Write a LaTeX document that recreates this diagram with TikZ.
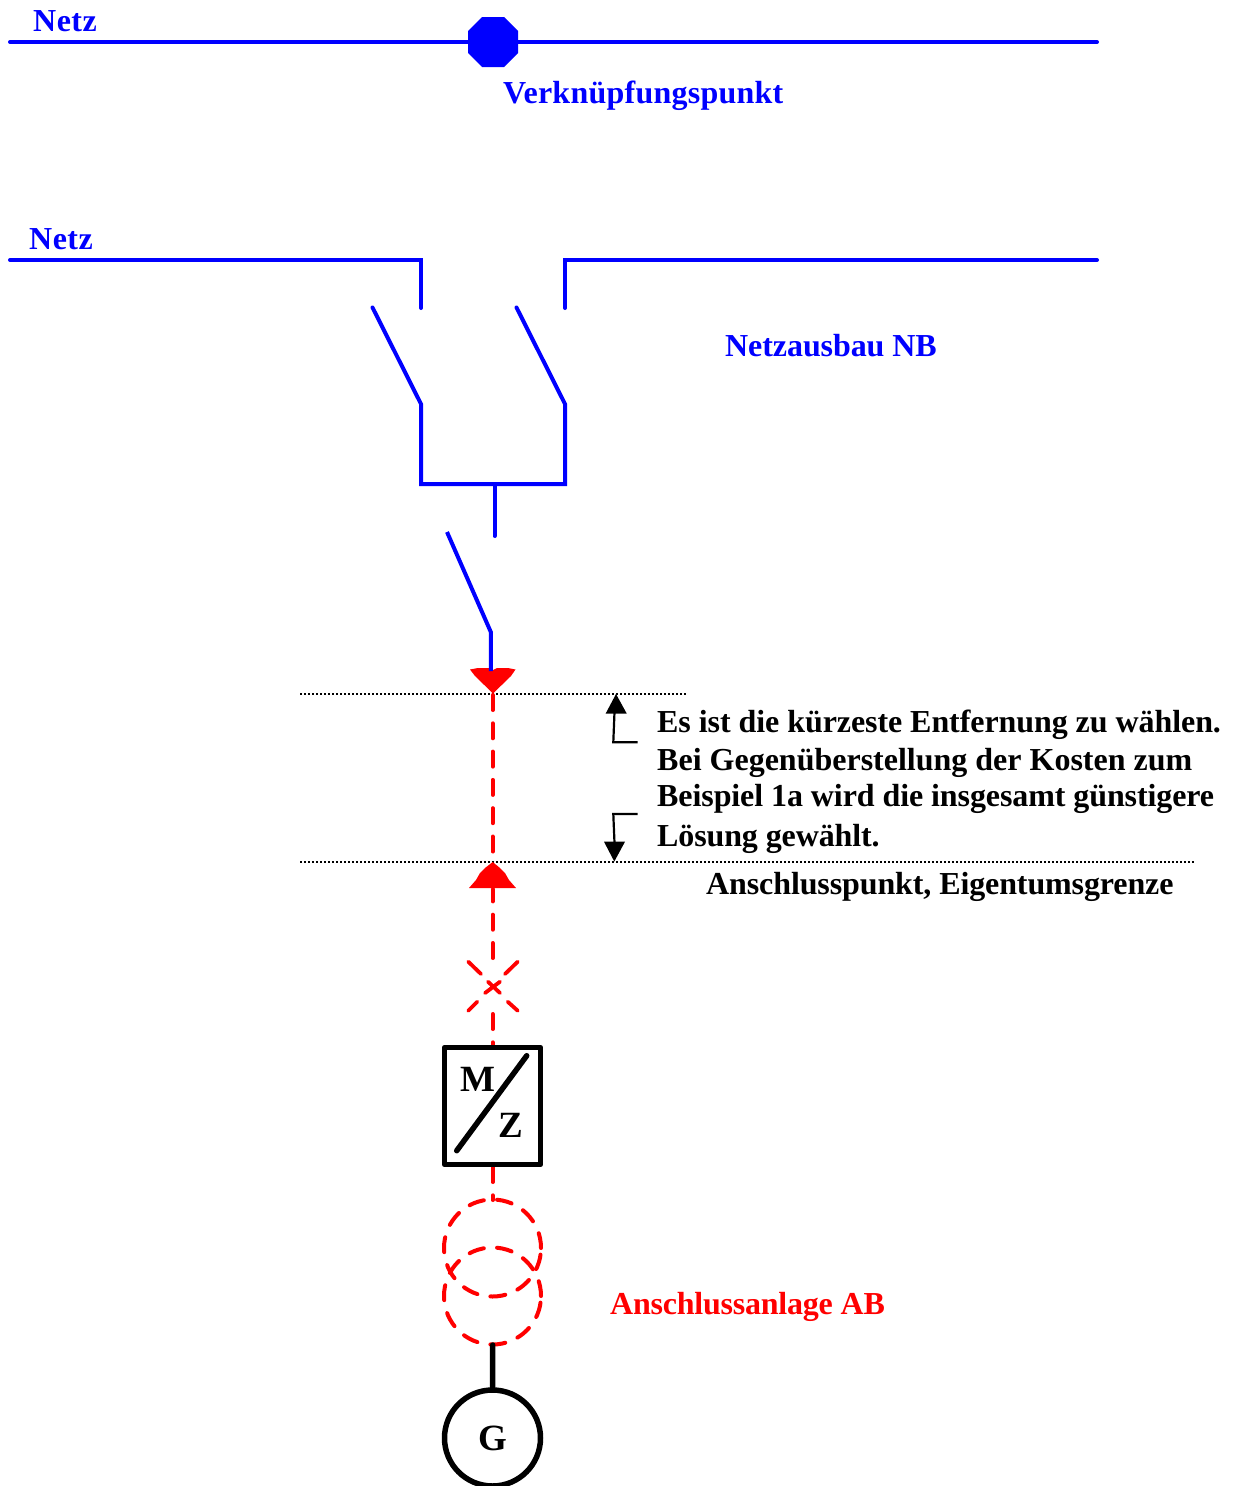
\documentclass[tikz,border=0pt]{standalone}
\usepackage{fontspec}
\setmainfont{Liberation Serif}
\newcommand{\ls}[1]{\addfontfeature{LetterSpace=#1}}
\tikzset{
  lbl/.style={inner sep=0pt,anchor=base west,font=\fontsize{32}{38}\selectfont\bfseries},
  sym/.style={inner sep=0pt,anchor=center,font=\fontsize{37}{40}\selectfont\bfseries},
  bluel/.style={draw=blue,line width=4pt,line join=miter,line cap=round},
  redd/.style={draw=red,line width=4pt,line cap=round,dash pattern=on 15pt off 13.3pt},
  reds/.style={draw=red,line width=3.8pt,line cap=round},
  blk/.style={draw=black,line width=5.5pt,line cap=round,line join=round},
  thinb/.style={draw=black,line width=2.2pt},
  dots/.style={draw=black,line width=1.6pt,dash pattern=on 1.5pt off 2.5pt},
}
\begin{document}
\begin{tikzpicture}[x=1pt,y=-1pt]
\useasboundingbox (0,0) rectangle (1239,1486);
% top network
\coordinate (n1l) at (10,42);
\coordinate (n1r) at (1097,42);
\draw[bluel] (n1l) -- (n1r);
\fill[blue] (482,17) -- (504,17) -- (518,31) -- (518,53) -- (504,67) -- (482,67) -- (468,53) -- (468,31) -- cycle;
\node[lbl,text=blue] (netza) at (33,31) {\ls{1.5}Netz};
\node[lbl,text=blue] (vp) at (503,103) {\ls{0.75}Verknüpfungspunkt};
% second network
\node[lbl,text=blue] (netzb) at (29,249.5) {\ls{1.5}Netz};
\node[lbl,text=blue] (nb) at (725,356) {\ls{-0.25}Netzausbau NB};
\coordinate (a1) at (10,260);
\coordinate (a2) at (421,260);
\coordinate (a3) at (421,308);
\coordinate (b1) at (1097,260);
\coordinate (b2) at (565,260);
\coordinate (b3) at (565,308);
\draw[bluel] (a1) -- (a2) -- (a3);
\draw[bluel] (b1) -- (b2) -- (b3);
\coordinate (s1) at (372.5,307.5);
\coordinate (s2) at (421,404);
\coordinate (s3) at (421,484);
\coordinate (s4) at (565,484);
\coordinate (s5) at (565,404);
\coordinate (s6) at (516.5,307.5);
\draw[bluel] (s1) -- (s2) -- (s3) -- (s4) -- (s5) -- (s6);
\coordinate (t1) at (494.5,484);
\coordinate (t2) at (494.5,536);
\draw[bluel] (t1) -- (t2);
\coordinate (u1) at (447,532);
\coordinate (u2) at (490.8,632);
\coordinate (u3) at (490.8,671);
% dotted levels
\coordinate (d1l) at (300,694);
\coordinate (d1r) at (686,694);
\coordinate (d2l) at (300,862);
\coordinate (d2r) at (1194,862);
\draw[dots] (d1l) -- (d1r);
\draw[dots] (d2l) -- (d2r);
% red dashed
\coordinate (r1) at (492.7,695);
\coordinate (r2) at (492.7,860);
\coordinate (r3) at (492.7,958);
\coordinate (r4) at (492.7,889);
\coordinate (r5) at (492.7,1014);
\coordinate (r6) at (492.7,1046);
\coordinate (r7) at (492.7,1167);
\coordinate (r8) at (492.7,1200);
\draw[redd] (r1) -- (r2);
\draw[redd] (r3) -- (r4);
\draw[redd] (r5) -- (r6);
\draw[redd] (r7) -- (r8);
\fill[red] (470,669.5) -- (478,668) -- (489,668) -- (493,670) -- (497,668) -- (508,668) -- (515.5,669.5) -- (511,676) -- (493,693.5) -- (475,676) -- cycle;
\fill[red] (492.7,862) -- (500,868) -- (505,873) -- (509,880) -- (516,888) -- (469,888) -- (476,880) -- (480,873) -- (485,868) -- cycle;
\draw[bluel,line cap=butt] (u1) -- (u2) -- (u3);
% breaker
\draw[reds] (468.3,961.7) -- (481,974) (517.7,961.7) -- (505,974)
  (485,993) -- (500,981.7) (488,981.7) -- (500,993)
  (468.3,1010.7) -- (477.3,1001.7) (517.7,1010.7) -- (507.7,1001.7);
% meter
\node[draw=black,line width=5.5pt,minimum width=96pt,minimum height=117pt,inner sep=0pt,line join=round] (mz) at (492.5,1106) {};
\draw[blk] (456.7,1150.7) -- (526.7,1055.7);
\node[sym] (m) at (477.5,1079) {M};
\node[sym] (z) at (510.5,1125.5) {Z};
% transformer
\node[circle,minimum size=97pt,inner sep=0pt,redd] (c1) at (492.5,1248) {};
\node[circle,minimum size=97pt,inner sep=0pt,redd] (c2) at (492.5,1296) {};
% generator
\node[circle,draw=black,line width=5.5pt,minimum size=96pt,inner sep=0pt,sym] (g) at (492.5,1438) {\hspace{1pt}G};
\coordinate (gt) at (492.7,1345);
\draw[blk] (gt) -- (g.north);
% dimension arrows
\coordinate (p1) at (637.5,742.3);
\coordinate (p2) at (613.3,742.3);
\coordinate (p3) at (614.5,712);
\draw[thinb] (p1) -- (p2) -- (p3);
\fill[black] (616,694) -- (626.7,713.5) -- (605.7,713.5) -- cycle;
\coordinate (q1) at (637.5,814);
\coordinate (q2) at (613.3,814);
\coordinate (q3) at (614.5,843);
\draw[thinb] (q1) -- (q2) -- (q3);
\fill[black] (614.3,861.5) -- (625,841.7) -- (604,841.7) -- cycle;
% texts
\node[lbl] (l1) at (657,732) {\ls{-0.23}Es ist die kürzeste Entfernung zu wählen.};
\node[lbl] (l2) at (657,770) {Bei Gegenüberstellung der Kosten zum};
\node[lbl] (l3) at (657,806) {\ls{-0.3}Beispiel 1a wird die insgesamt günstigere};
\node[lbl] (l4) at (657,846) {\ls{-0.4}Lösung gewählt.};
\node[lbl] (ap) at (706,894) {\ls{-0.35}Anschlusspunkt, Eigentumsgrenze};
\node[lbl,text=red] (ab) at (610,1314) {\ls{-0.7}Anschlussanlage AB};
\end{tikzpicture}
\end{document}
